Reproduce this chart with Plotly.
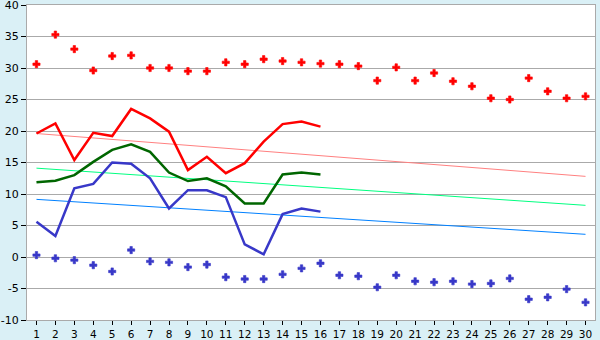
import plotly.graph_objects as go

days = list(range(1, 31))
days_obs = list(range(1, 17))

max_points = [30.6, 35.3, 33.0, 29.6, 31.9, 32.0, 30.0, 30.0, 29.5, 29.5,
              30.9, 30.6, 31.4, 31.1, 30.9, 30.7, 30.6, 30.3, 28.0, 30.1,
              28.0, 29.2, 27.9, 27.1, 25.2, 25.0, 28.4, 26.3, 25.2, 25.5]
min_points = [0.3, -0.2, -0.5, -1.3, -2.3, 1.1, -0.7, -0.85, -1.6, -1.2,
              -3.2, -3.5, -3.5, -2.75, -1.8, -1.0, -2.9, -3.05, -4.8, -2.9,
              -3.85, -4.0, -3.85, -4.3, -4.2, -3.4, -6.7, -6.4, -5.1, -7.2]

max_line = [19.6, 21.2, 15.4, 19.7, 19.2, 23.5, 22.0, 19.9, 13.8, 15.9,
            13.3, 14.9, 18.3, 21.1, 21.5, 20.7]
mean_line = [11.85, 12.1, 13.0, 15.1, 17.0, 17.9, 16.7, 13.4, 12.06, 12.5,
             11.2, 8.5, 8.5, 13.1, 13.4, 13.1]
min_line = [5.6, 3.33, 10.9, 11.6, 15.0, 14.8, 12.5, 7.7, 10.6, 10.6,
            9.5, 2.0, 0.43, 6.8, 7.7, 7.2]

trend_days = [1, 30]
trend_max = [19.6, 12.8]
trend_mean = [14.1, 8.2]
trend_min = [9.15, 3.6]

y_ticks = list(range(-10, 41, 5))

fig = go.Figure()
fig.add_trace(go.Scatter(x=trend_days, y=trend_max, mode="lines",
                         line=dict(color="#ff8080", width=1)))
fig.add_trace(go.Scatter(x=trend_days, y=trend_mean, mode="lines",
                         line=dict(color="#00ff80", width=1)))
fig.add_trace(go.Scatter(x=trend_days, y=trend_min, mode="lines",
                         line=dict(color="#0080ff", width=1)))
fig.add_trace(go.Scatter(x=days_obs, y=max_line, mode="lines",
                         line=dict(color="#ff0000", width=2.5)))
fig.add_trace(go.Scatter(x=days_obs, y=mean_line, mode="lines",
                         line=dict(color="#006600", width=2.5)))
fig.add_trace(go.Scatter(x=days_obs, y=min_line, mode="lines",
                         line=dict(color="#3838c8", width=2.5)))
fig.add_trace(go.Scatter(x=days, y=max_points, mode="markers",
                         marker=dict(symbol="cross", size=6, color="#ff0000",
                                     line=dict(width=0.6, color="#ff0000"))))
fig.add_trace(go.Scatter(x=days, y=min_points, mode="markers",
                         marker=dict(symbol="cross", size=6, color="#3838c8",
                                     line=dict(width=0.6, color="#3838c8"))))

fig.update_layout(
    width=600, height=340,
    margin=dict(l=27, r=5, t=5, b=20, autoexpand=False),
    paper_bgcolor="#daf0f6",
    plot_bgcolor="#ffffff",
    showlegend=False,
    font=dict(family="DejaVu Sans", size=11, color="#000000"),
)
fig.update_xaxes(
    range=[0.5, 30.5], tickmode="array", tickvals=days,
    ticktext=[str(d) for d in days],
    tickfont=dict(size=10.5),
    showgrid=False, ticks="outside", ticklen=4, tickcolor="#000000",
    ticklabeloverflow="allow", automargin=False,
    showline=True, linecolor="#aaaaaa", linewidth=1, mirror=True,
    zeroline=False, fixedrange=True,
)
fig.update_yaxes(
    range=[-10, 40], tickmode="array", tickvals=y_ticks,
    ticktext=[str(v) for v in y_ticks],
    showgrid=True, gridcolor="#aaaaaa", gridwidth=1,
    ticks="outside", ticklen=5, tickcolor="#000000",
    ticklabeloverflow="allow", automargin=False,
    showline=True, linecolor="#aaaaaa", linewidth=1, mirror=True,
    zeroline=False, fixedrange=True,
)

fig.write_html("out.html", config={"displayModeBar": False},
               post_script="document.body.style.margin='0';document.body.style.overflow='hidden';")
